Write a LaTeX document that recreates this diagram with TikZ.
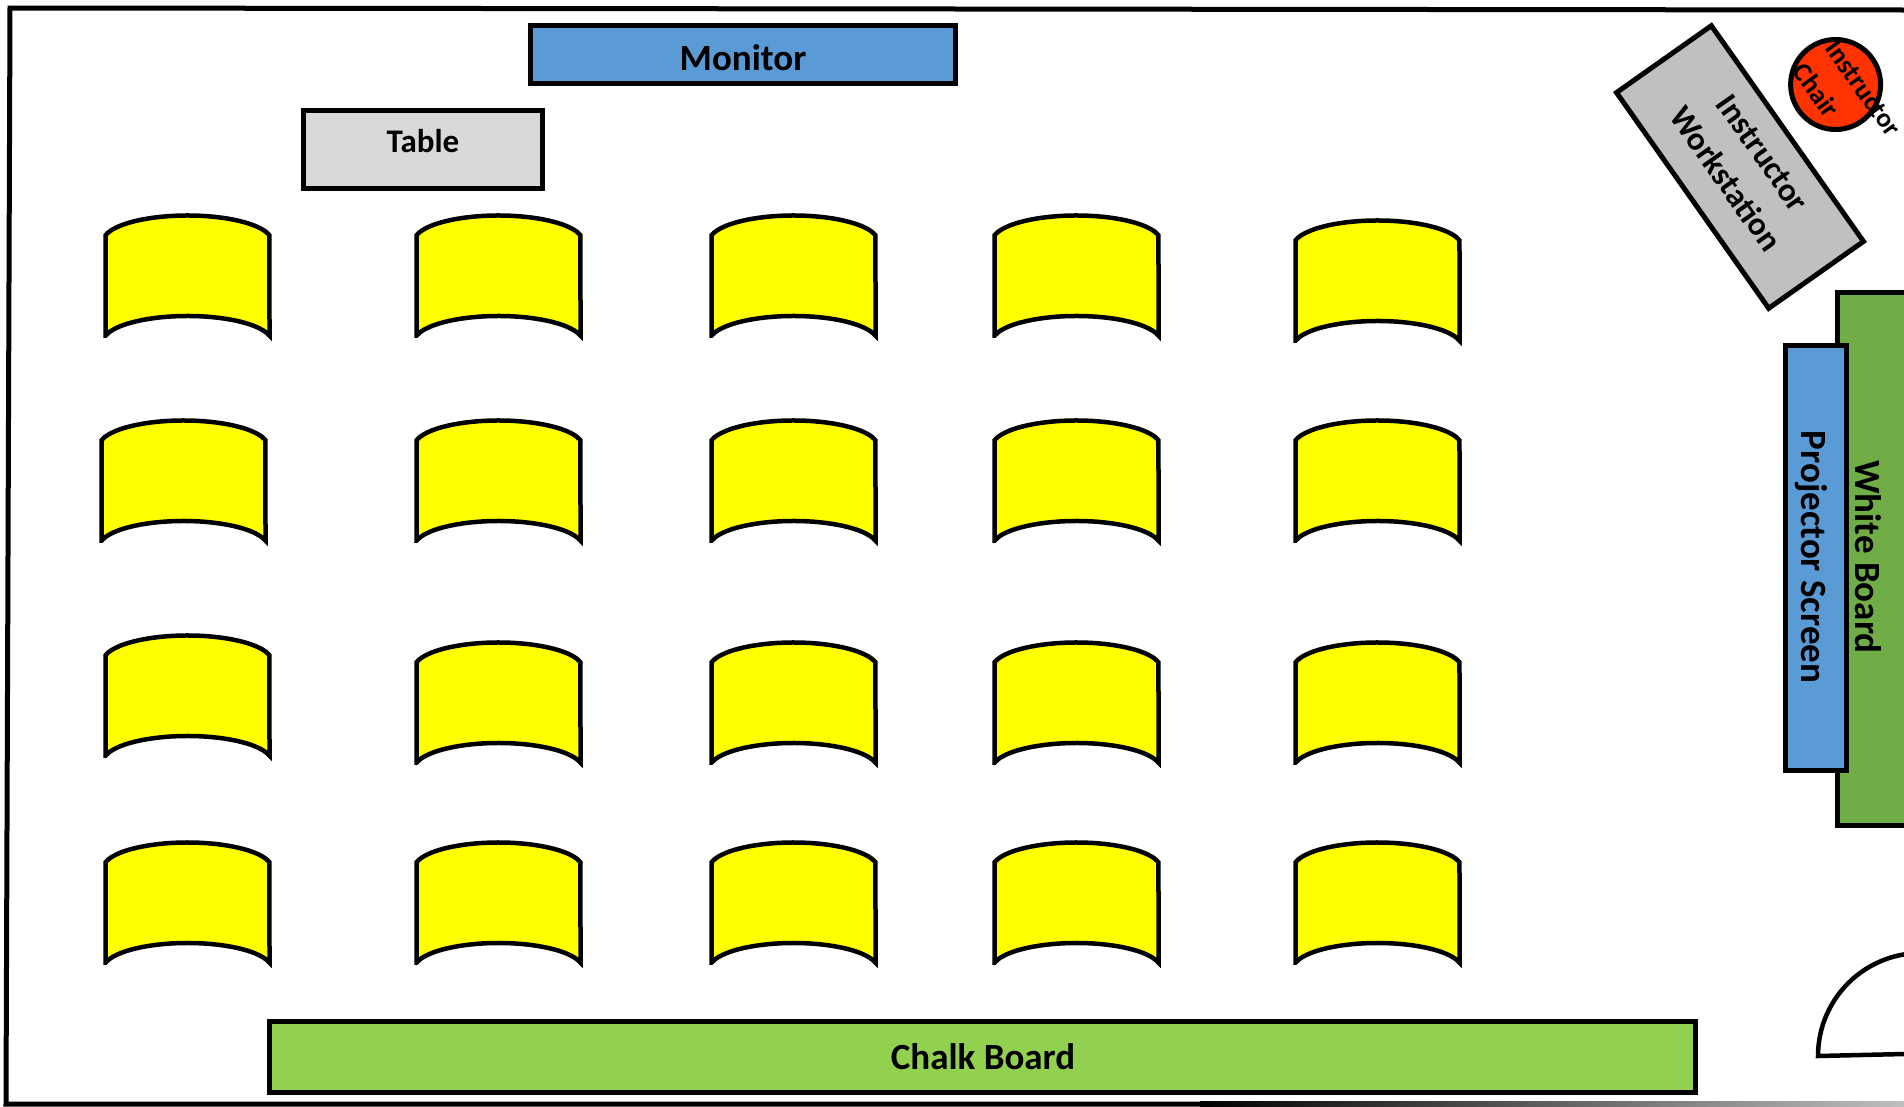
\documentclass[tikz,border=0pt]{standalone}
\usepackage{fontspec}
\setmainfont{Carlito}
\definecolor{monblue}{HTML}{5B9BD5}
\definecolor{tablegray}{HTML}{D9D9D9}
\definecolor{chalkgreen}{HTML}{92D050}
\definecolor{wbgreen}{HTML}{70AD47}
\definecolor{wsgray}{HTML}{C0C0C0}
\definecolor{chairred}{HTML}{FF3300}
\definecolor{seatyellow}{HTML}{FFFF00}
\begin{document}
\begin{tikzpicture}[x=1pt,y=-1pt,
  box/.style={draw=black,line width=5pt},
  lbl/.style={font=\bfseries\fontsize{37}{44}\selectfont,inner sep=0pt},
  seat/.pic={\draw[draw=black,fill=seatyellow,line width=4.5pt,miter limit=10]
     (2.5,122.7) -- (2.5,22.2)
     arc[start angle=166,end angle=14,x radius=84.5pt,y radius=26pt]
     -- (166.5,122.7)
     arc[start angle=14,end angle=166,x radius=84.5pt,y radius=26pt]
     -- cycle;}
]
\useasboundingbox (0,0) rectangle (1904,1106);
\fill[white] (0,0) rectangle (1904,1106);

% room outline
\draw[line width=5pt,line join=miter] (1904,10) -- (10,8) -- (6,1104) -- (1200,1104);
\shade[left color=black,right color=black!25] (1200,1101.5) rectangle (1904,1106.5);

% door
\draw[line width=4.5pt] (1904,1054) -- (1818,1056) arc[start angle=180,end angle=90,radius=103pt];

% furniture
\draw[box,fill=monblue] (530.5,25.5) rectangle (955.5,83.5);
\node[lbl] (monitor) at (743,58) {Monitor};

\draw[box,fill=tablegray] (303.5,110.5) rectangle (542.5,188.5);
\node[lbl,font=\bfseries\fontsize{33}{40}\selectfont] (table) at (423,141) {Table};

\draw[box,fill=chalkgreen] (269.5,1021.5) rectangle (1695.5,1092.5);
\node[lbl] (chalk) at (983,1057) {Chalk Board};

\draw[box,fill=wbgreen] (1837.5,292.5) rectangle (1915,825.5);
\node[lbl,rotate=-90] (white) at (1868,557) {White Board};

\draw[box,fill=monblue] (1785.5,345.5) rectangle (1846.5,770.5);
\node[lbl,rotate=-90] (proj) at (1811,557) {Projector Screen};

\node[box,fill=wsgray,rotate=-54.8,minimum width=264pt,minimum height=116pt,inner sep=0pt] (ws) at (1740,167) {};
\node[rotate=-54.8,inner sep=0pt,align=center,font=\bfseries\fontsize{33}{45}\selectfont] (wstext) at (1744,166) {Instructor\\Workstation};

\draw[box,fill=chairred] (1835.6,84.5) circle[radius=45pt];
\node[inner sep=0pt,rotate=-54.5,align=left,font=\bfseries\fontsize{27}{40}\selectfont] (ichair) at (1847,100) {Instructor\\Chair};

% seats
\foreach \x/\y in {103/213,414/213,709/213,992/213,1293/218,
                   99/418,414/418,709/418,992/418,1293/418,
                   103/633,414/640,709/640,992/640,1293/640,
                   103/840,414/840,709/840,992/840,1293/840}
  \pic at (\x,\y) {seat};
\end{tikzpicture}
\end{document}
